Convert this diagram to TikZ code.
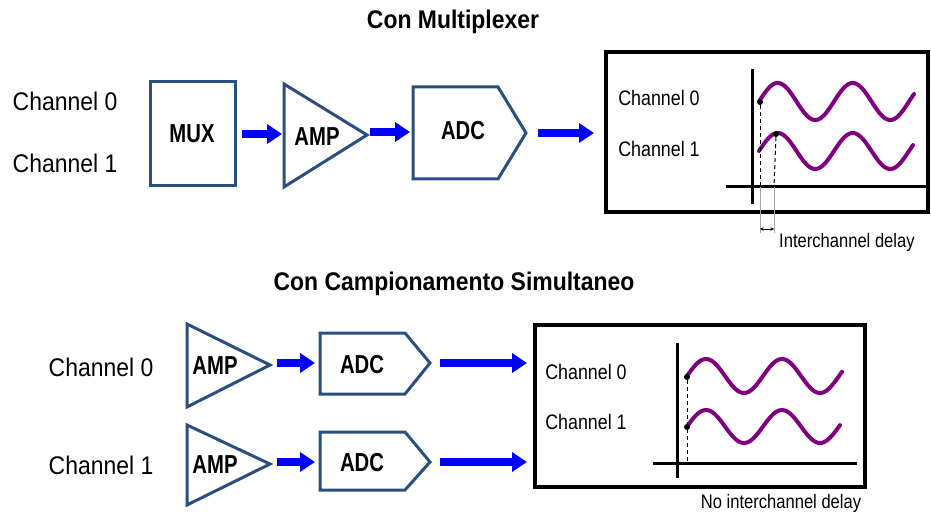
\documentclass[tikz,border=0pt]{standalone}
\usepackage{fontspec}
\setmainfont{Liberation Sans}
\newfontfamily\fA{Liberation Sans}[FakeStretch=0.9]
\newfontfamily\fB{Liberation Sans}[FakeStretch=0.78]
\newfontfamily\fC{Liberation Sans}[FakeStretch=0.85]
\usetikzlibrary{arrows.meta}
\definecolor{boxblue}{HTML}{2A4E7F}
\definecolor{wavec}{HTML}{800080}
\begin{document}
\begin{tikzpicture}[x=1pt,y=-1pt,
  blk/.style={draw=boxblue, line width=3pt, line join=miter, fill=white},
  flow/.style={draw=blue, line width=8pt, -{Triangle[length=15pt,width=19pt]}},
  disp/.style={draw=black, line width=3.5pt},
  axisl/.style={draw=black, line width=3pt},
  sig/.style={draw=wavec, line width=4pt},
  big/.style={inner sep=0pt, font=\fA\fontsize{25.5}{29}\selectfont},
  ttl/.style={inner sep=0pt, font=\fA\fontsize{25.5}{29}\selectfont\bfseries},
  lbl/.style={inner sep=0pt, font=\fB\fontsize{26}{30}\selectfont\bfseries},
  inner/.style={inner sep=0pt, font=\fC\fontsize{21}{25}\selectfont},
  note/.style={inner sep=0pt, font=\fC\fontsize{19.5}{23}\selectfont},
  dashl/.style={draw=black, line width=1pt, dash pattern=on 4pt off 3pt},
  ext/.style={draw=black!35, line width=0.6pt},
  dotn/.style={circle, fill=black, inner sep=0pt, minimum size=6pt}
]
\useasboundingbox (0,0) rectangle (931,513);

% ---------- titles ----------
\node[ttl] (t1) at (453,22) {Con Multiplexer};
\node[ttl] (t2) at (454,284) {Con Campionamento Simultaneo};

% ---------- top row ----------
\node[big] (c0) at (65,101) {Channel 0};
\node[big] (c1) at (65,163) {Channel 1};

\draw[blk] (150,82) rectangle (235,186);
\node[lbl] (mux) at (192,134) {MUX};

\draw[blk] (284,84) -- (367,135) -- (284,187) -- cycle;
\node[lbl] (amp) at (317,137) {AMP};

\draw[blk] (413,87) -- (498,87) -- (526,133) -- (498,179) -- (413,179) -- cycle;
\node[lbl] (adc) at (463,131) {ADC};

\coordinate (a1s) at (242,134); \coordinate (a1e) at (282,134);
\coordinate (a2s) at (370,132); \coordinate (a2e) at (410,132);
\coordinate (a3s) at (538,133); \coordinate (a3e) at (594,133);
\draw[flow] (a1s) -- (a1e);
\draw[flow] (a2s) -- (a2e);
\draw[flow] (a3s) -- (a3e);

% top display
\draw[disp] (606,52) rectangle (928,212);
\coordinate (vy0) at (752,69); \coordinate (vy1) at (752,204);
\coordinate (hx0) at (726,187); \coordinate (hx1) at (928,187);
\draw[axisl] (vy0) -- (vy1);
\draw[axisl] (hx0) -- (hx1);
\node[inner] (d0) at (659,98) {Channel 0};
\node[inner] (d1) at (659,149) {Channel 1};
\draw[sig, line cap=round] plot[domain=759:914, samples=120] (\x,{101.5-18.5*sin(4.8*(\x-759))});
\draw[sig, line cap=round] plot[domain=759:913, samples=120] (\x,{151-18*sin(4.8*(\x-759))});
\node[dotn] (p0) at (760,102) {};
\node[dotn] (p1) at (776,134) {};
\coordinate (q0) at (760,187); \coordinate (q1) at (774,187);
\draw[dashl] (p0) -- (q0);
\draw[dashl] (p1) -- (q1);
\coordinate (r0) at (760,233); \coordinate (r1) at (774,233);
\draw[ext] (q0) -- (r0);
\draw[ext] (q1) -- (r1);
\coordinate (s0) at (760,229); \coordinate (s1) at (774,229);
\draw[line width=0.8pt, {Stealth[length=3.5pt,width=3.5pt]}-{Stealth[length=3.5pt,width=3.5pt]}] (s0) -- (s1);
\node[note, anchor=west] (idl) at (779,242) {Interchannel delay};

% ---------- bottom rows ----------
\node[big] (b0) at (101,367) {Channel 0};
\node[big] (b1) at (101,465) {Channel 1};

\draw[blk] (187,324) -- (270,365) -- (187,407) -- cycle;
\node[lbl] (amp1) at (215,366) {AMP};
\draw[blk] (187,425) -- (270,464) -- (187,505) -- cycle;
\node[lbl] (amp2) at (215,465) {AMP};

\draw[blk] (320,333) -- (405,333) -- (430,363) -- (405,394) -- (320,394) -- cycle;
\node[lbl] (adc1) at (362,365) {ADC};
\draw[blk] (320,432) -- (405,432) -- (430,462) -- (405,490) -- (320,490) -- cycle;
\node[lbl] (adc2) at (362,463) {ADC};

\coordinate (b1s) at (277,363); \coordinate (b1e) at (315,363);
\coordinate (b2s) at (440,363); \coordinate (b2e) at (527,363);
\coordinate (b3s) at (277,462); \coordinate (b3e) at (315,462);
\coordinate (b4s) at (440,462); \coordinate (b4e) at (527,462);
\draw[flow] (b1s) -- (b1e);
\draw[flow] (b2s) -- (b2e);
\draw[flow] (b3s) -- (b3e);
\draw[flow] (b4s) -- (b4e);

% bottom display
\draw[disp] (535,325) rectangle (865,487);
\coordinate (wy0) at (677,343); \coordinate (wy1) at (677,478);
\coordinate (wx0) at (653,463); \coordinate (wx1) at (857,463);
\draw[axisl] (wy0) -- (wy1);
\draw[axisl] (wx0) -- (wx1);
\node[inner] (e0) at (586,372) {Channel 0};
\node[inner] (e1) at (586,422) {Channel 1};
\draw[sig, line cap=round] plot[domain=687:842, samples=120] (\x,{376-17*sin(4.7368*(\x-687))});
\draw[sig, line cap=round] plot[domain=687:840, samples=120] (\x,{426.5-16.5*sin(4.7368*(\x-687))});
\node[dotn] (u0) at (687,377) {};
\node[dotn] (u1) at (687,427) {};
\coordinate (v0) at (687,463);
\draw[dashl] (u0) -- (v0);
\node[note] (nid) at (781,503) {No interchannel delay};
\end{tikzpicture}
\end{document}
